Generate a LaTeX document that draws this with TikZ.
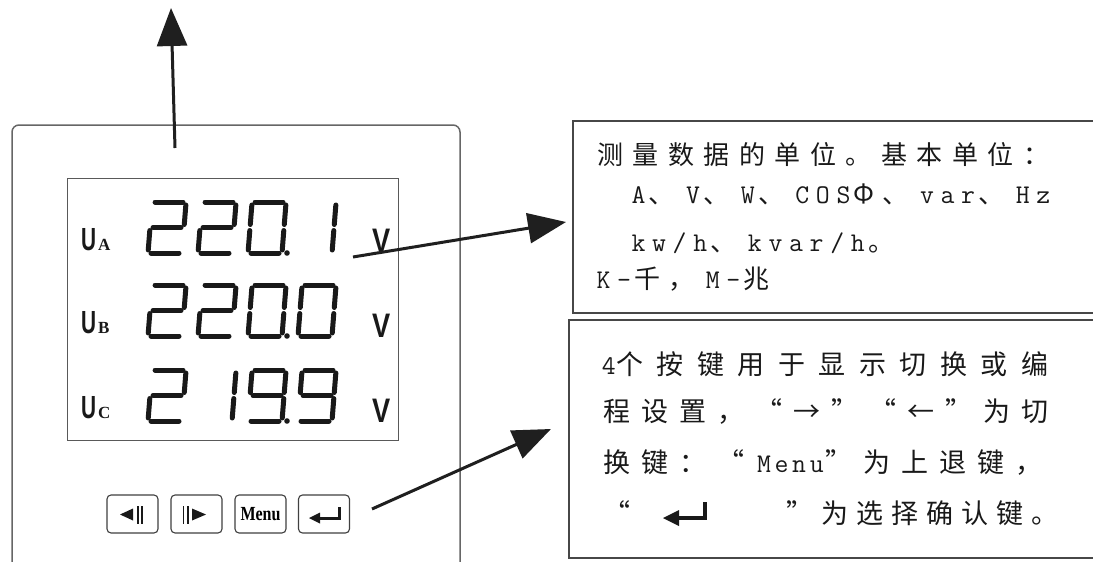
\documentclass[tikz,border=0pt]{standalone}
\usepackage{fontspec}
\usetikzlibrary{arrows.meta}
\newfontfamily\cjk{Noto Sans CJK SC}
\newfontfamily\usans[FakeStretch=0.65]{Liberation Sans}
\newfontfamily\vsans[FakeStretch=0.8]{Liberation Sans}
\newfontfamily\subserif{Liberation Serif}
\newfontfamily\menufont[FakeStretch=0.8]{Liberation Serif}
\makeatletter
% #1 gap after CJK glyphs, #2 cell width of Latin glyphs, #3 text
\newcommand\spacedtext[3]{%
  \def\st@c{#1}\def\st@l{#2}%
  \@tfor\st@t:=#3\do{\expandafter\st@one\st@t}}
\def\st@one#1{%
  \ifx#1|\hspace*{\st@c}\else
  \ifnum`#1<256 \makebox[\st@l][c]{\ttfamily\fontsize{27}{27}\selectfont #1}%
  \else{\cjk #1}\hspace*{\st@c}\fi\fi}
\makeatother
\newcommand\lcdsegA{\draw[segline] (3pt,51pt)--(31pt,51pt);}
\newcommand\lcdsegB{\draw[segline] (34pt,48pt)--(34pt,28.5pt);}
\newcommand\lcdsegC{\draw[segline] (34pt,22.5pt)--(34pt,3pt);}
\newcommand\lcdsegD{\draw[segline] (3pt,0pt)--(31pt,0pt);}
\newcommand\lcdsegE{\draw[segline] (0pt,22.5pt)--(0pt,3pt);}
\newcommand\lcdsegF{\draw[segline] (0pt,48pt)--(0pt,28.5pt);}
\newcommand\lcdsegG{\draw[segline] (3pt,25.5pt)--(31pt,25.5pt);}
\newcommand\lcddigit[3]{\begin{scope}[shift={(#1,#2)},xslant=0.08]
  \foreach \s in {#3}{\csname lcdseg\s\endcsname}\end{scope}}
\tikzset{
  segline/.style={line width=5pt, line cap=round, color=black!90},
  panel/.style={draw=black!72, line width=1.8pt, anchor=north west, inner sep=0pt},
  lcdframe/.style={draw=black!65, line width=1.4pt, anchor=north west, inner sep=0pt},
  devline/.style={draw=black!60, line width=1.5pt, rounded corners=7pt},
  btn/.style={draw=black!75, line width=1.1pt, rounded corners=4pt, minimum width=51pt, minimum height=38pt, inner sep=0pt},
  bigarrow/.style={line width=3pt, color=black!88, -{Triangle[length=38pt,width=30pt]}},
  txt/.style={anchor=base west, inner sep=0pt, text=black!90},
  lbl/.style={anchor=base west, inner sep=0pt, text=black!90},
}
\begin{document}
\begin{tikzpicture}[x=1pt,y=-1pt]
\useasboundingbox (0,0) rectangle (1093,562);
\fill[white] (0,0) rectangle (1093,562);
% device outline
\draw[devline] (12,580) -- (12,125) -- (460,125) -- (460,580);
% display
\node[lcdframe, minimum width=331pt, minimum height=262pt] (lcd) at (67,178) {};
% labels
\node[lbl] (ua) at (81,250) {{\usans\bfseries\fontsize{32}{32}\selectfont U}\hspace{2pt}{\subserif\bfseries\fontsize{17}{17}\selectfont A}};
\node[lbl] (ub) at (81,333) {{\usans\bfseries\fontsize{32}{32}\selectfont U}\hspace{2pt}{\subserif\bfseries\fontsize{17}{17}\selectfont B}};
\node[lbl] (uc) at (81,418) {{\usans\bfseries\fontsize{32}{32}\selectfont U}\hspace{2pt}{\subserif\bfseries\fontsize{17}{17}\selectfont C}};
\node[lbl] (va) at (372,252) {\vsans\bfseries\fontsize{34}{34}\selectfont V};
\node[lbl] (vb) at (372,337) {\vsans\bfseries\fontsize{34}{34}\selectfont V};
\node[lbl] (vc) at (372,422) {\vsans\bfseries\fontsize{34}{34}\selectfont V};
% digits row 1: 220.1
\lcddigit{148}{253}{A,B,G,E,D}
\lcddigit{198}{253}{A,B,G,E,D}
\lcddigit{248}{253}{A,B,C,D,E,F}
\lcddigit{298}{253}{B,C}
\fill[black!90] (287,253) circle (2.8pt);
% row 2: 220.0
\lcddigit{148}{336}{A,B,G,E,D}
\lcddigit{198}{336}{A,B,G,E,D}
\lcddigit{248}{336}{A,B,C,D,E,F}
\lcddigit{298}{336}{A,B,C,D,E,F}
\fill[black!90] (287,336) circle (2.8pt);
% row 3: 219.9
\lcddigit{148}{421}{A,B,G,E,D}
\lcddigit{198}{421}{B,C}
\lcddigit{248}{421}{A,B,C,D,F,G}
\lcddigit{298}{421}{A,B,C,D,F,G}
\fill[black!90] (287,421) circle (2.8pt);
% buttons
\node[btn] (k1) at (132.5,514) {};
\node[btn] (k2) at (196.5,514) {};
\node[btn] (k3) at (260.5,514) {\menufont\bfseries\fontsize{20}{20}\selectfont Menu};
\node[btn] (k4) at (324,514) {};
\fill[black!90] (120,514.5) -- (133,508.5) -- (133,520.5) -- cycle;
\draw[black!90, line width=2pt] (137.5,506) -- (137.5,524);
\draw[black!90, line width=1.4pt] (141.8,506) -- (141.8,524);
\draw[black!90, line width=1.4pt] (183.2,506) -- (183.2,524);
\draw[black!90, line width=2pt] (187.5,506) -- (187.5,524);
\fill[black!90] (206,514.5) -- (192,508.5) -- (192,520.5) -- cycle;
\fill[black!90] (309,518) -- (320,512.5) -- (320,523.5) -- cycle;
\draw[black!90, line width=3pt] (318,518) -- (339,518) -- (339,506.5);
% boxes
\node[panel, minimum width=560pt, minimum height=192pt] (box1) at (572,120) {};
\node[panel, minimum width=560pt, minimum height=238pt] (box2) at (568,319) {};
% box 1 text
\node[txt] (t11) at (597,164) {\fontsize{26}{26}\selectfont\spacedtext{9.5pt}{20.6pt}{测量数据的单位。基本单位：}};
\node[txt] (t12) at (628,203) {\fontsize{26}{26}\selectfont\spacedtext{8pt}{20.6pt}{A、V、W、COSΦ、var、Hz}};
\node[txt] (t13) at (628,251) {\fontsize{26}{26}\selectfont\spacedtext{8pt}{20.6pt}{kw/h、kvar/h。}};
\node[txt] (t14) at (593,288) {\fontsize{26}{26}\selectfont\spacedtext{8pt}{20.6pt}{K-千，M-兆}};
% box 2 text
\node[txt] (t21) at (601,374) {\fontsize{27}{27}\selectfont\spacedtext{13.5pt}{15pt}{4个按键用于显示切换或编}};
\node[txt] (t22) at (603,421) {\fontsize{27}{27}\selectfont\spacedtext{11pt}{17.6pt}{程设置，“→”“←”为切}};
\node[txt] (t23) at (603,472) {\fontsize{27}{27}\selectfont\spacedtext{11pt}{17.6pt}{换键：“Menu”为上退键，}};
\node[txt] (t24a) at (603,523) {\fontsize{27}{27}\selectfont\spacedtext{8pt}{17.6pt}{“}};
\node[txt] (t24b) at (786,523) {\fontsize{27}{27}\selectfont\spacedtext{8pt}{17.6pt}{”为选择确认键。}};
\fill[black!90] (663,518) -- (679,510) -- (679,526) -- cycle;
\draw[black!90, line width=4.5pt] (676,518) -- (705,518) -- (705,502);
% arrows
\coordinate (upS) at (175,148);
\coordinate (upE) at (171,8);
\coordinate (a1s) at (353,257);
\coordinate (a1e) at (566,222);
\coordinate (a2s) at (372,509);
\coordinate (a2e) at (551,429);
\draw[bigarrow] (upS) -- (upE);
\draw[bigarrow] (a1s) -- (a1e);
\draw[bigarrow] (a2s) -- (a2e);
\end{tikzpicture}
\end{document}
